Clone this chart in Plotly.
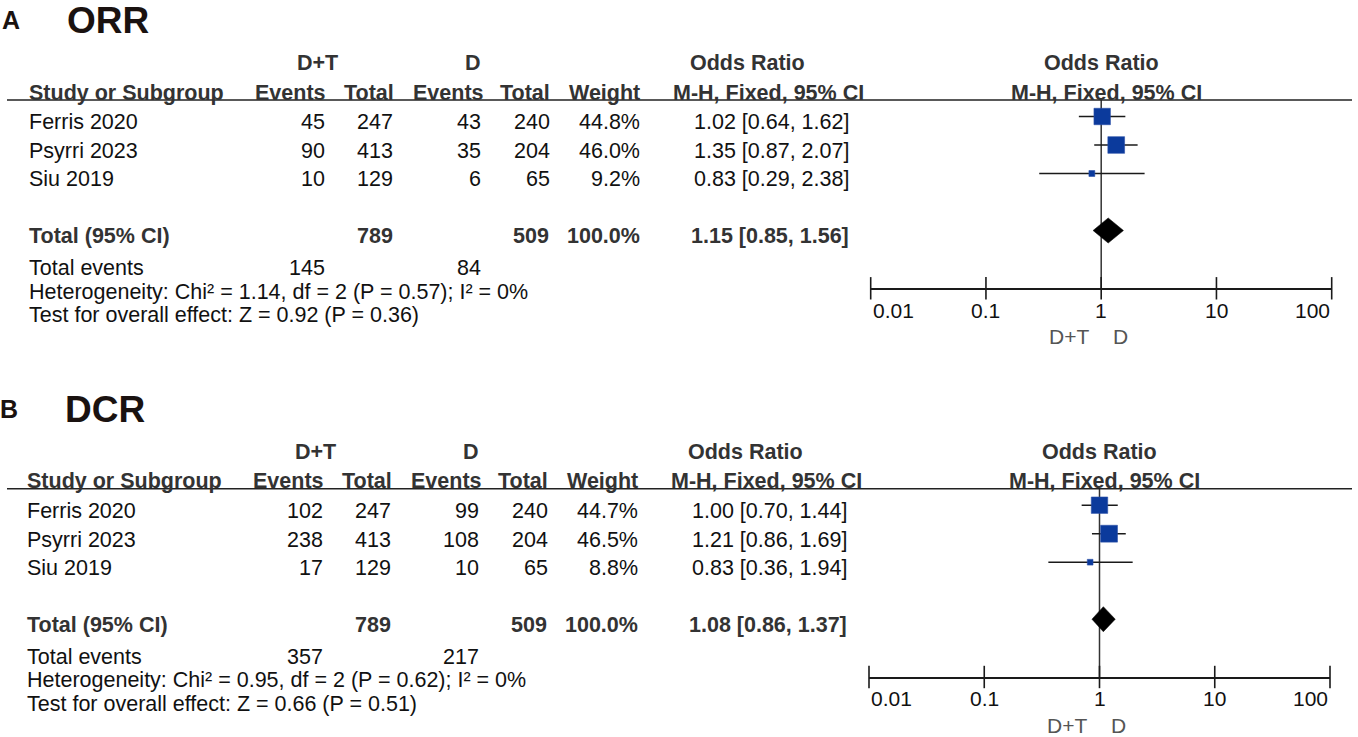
import math
import plotly.graph_objects as go

# ---------------- data ----------------
studies = ["Ferris 2020", "Psyrri 2023", "Siu 2019"]

orr_dt_events = [45, 90, 10]
orr_dt_total = [247, 413, 129]
orr_d_events = [43, 35, 6]
orr_d_total = [240, 204, 65]
orr_weight = [44.8, 46.0, 9.2]
orr_or = [1.02, 1.35, 0.83]
orr_lo = [0.64, 0.87, 0.29]
orr_hi = [1.62, 2.07, 2.38]
orr_pooled = [1.15, 0.85, 1.56]
orr_totals = [789, 509]
orr_total_events = [145, 84]
orr_het = "Heterogeneity: Chi² = 1.14, df = 2 (P = 0.57); I² = 0%"
orr_test = "Test for overall effect: Z = 0.92 (P = 0.36)"

dcr_dt_events = [102, 238, 17]
dcr_dt_total = [247, 413, 129]
dcr_d_events = [99, 108, 10]
dcr_d_total = [240, 204, 65]
dcr_weight = [44.7, 46.5, 8.8]
dcr_or = [1.00, 1.21, 0.83]
dcr_lo = [0.70, 0.86, 0.36]
dcr_hi = [1.44, 1.69, 1.94]
dcr_pooled = [1.08, 0.86, 1.37]
dcr_totals = [789, 509]
dcr_total_events = [357, 217]
dcr_het = "Heterogeneity: Chi² = 0.95, df = 2 (P = 0.62); I² = 0%"
dcr_test = "Test for overall effect: Z = 0.66 (P = 0.51)"

tick_vals = [0.01, 0.1, 1, 10, 100]
tick_labels = ["0.01", "0.1", "1", "10", "100"]

# ---------------- layout helpers ----------------
W, H = 1358, 737
FONT = "Liberation Sans, Arial, Helvetica, sans-serif"
HEAD = "#333333"
DATA = "#111111"
TS = 21.5  # table font size


def px(x):
    return x / W


def py(y):
    return 1 - y / H


fig = go.Figure()
annotations = []
shapes = []


def text(x, y, s, anchor="left", size=TS, bold=False, color=DATA):
    if bold:
        s = f"<b>{s}</b>"
    annotations.append(dict(x=px(x), y=py(y), xref="paper", yref="paper", text=s,
                            showarrow=False, xanchor=anchor, yanchor="middle",
                            font=dict(family=FONT, size=size, color=color)))


panels = [
    dict(letter="A", name="ORR", dte=orr_dt_events, dtt=orr_dt_total, de=orr_d_events,
         dt=orr_d_total, w=orr_weight, est=orr_or, lo=orr_lo, hi=orr_hi, pooled=orr_pooled,
         totals=orr_totals, tev=orr_total_events, het=orr_het, test=orr_test,
         dx=0.0, dy=0.0, xa="x", ya="y"),
    dict(letter="B", name="DCR", dte=dcr_dt_events, dtt=dcr_dt_total, de=dcr_d_events,
         dt=dcr_d_total, w=dcr_weight, est=dcr_or, lo=dcr_lo, hi=dcr_hi, pooled=dcr_pooled,
         totals=dcr_totals, tev=dcr_total_events, het=dcr_het, test=dcr_test,
         dx=-1.7, dy=388.7, xa="x2", ya="y2"),
]

ROW0_TEXT = 122.5
ROW0_MARK = 116.5
ROW_STEP = 28.5
HEADER_LINE = 100
AXIS_Y = 288.3
r_top = (HEADER_LINE - ROW0_MARK) / ROW_STEP
r_bot = (AXIS_Y - ROW0_MARK) / ROW_STEP
TOTAL_ROW = 4

for i, p in enumerate(panels):
    dx, dy = p["dx"], p["dy"]
    # titles
    text(0 + dx, 20 + dy, p["letter"], size=25, bold=True, color="#1a1210")
    text(65 + dx, 21 + dy, p["name"], size=37, bold=True, color="#1a1210")

    # header row 1
    text(317 + dx, 63.3 + dy, "D+T", anchor="center", bold=True, color=HEAD)
    text(473 + dx, 63.3 + dy, "D", anchor="center", bold=True, color=HEAD)
    text(747 + dx, 63.3 + dy, "Odds Ratio", anchor="center", bold=True, color=HEAD)
    text(1101 + dx, 63.3 + dy, "Odds Ratio", anchor="center", bold=True, color=HEAD)
    # header row 2
    hy = 92.7 + dy
    text(27 + dx, hy, "Study or Subgroup", bold=True, color=HEAD)
    text(328 + dx, hy, "Events", anchor="right", bold=True, color=HEAD)
    text(396 + dx, hy, "Total", anchor="right", bold=True, color=HEAD)
    text(486 + dx, hy, "Events", anchor="right", bold=True, color=HEAD)
    text(552 + dx, hy, "Total", anchor="right", bold=True, color=HEAD)
    text(642 + dx, hy, "Weight", anchor="right", bold=True, color=HEAD)
    text(768 + dx, hy, "M-H, Fixed, 95% CI", anchor="center", bold=True, color=HEAD)
    text(1106 + dx, hy, "M-H, Fixed, 95% CI", anchor="center", bold=True, color=HEAD)
    shapes.append(dict(type="line", xref="paper", yref="paper", x0=px(7), x1=px(1352),
                       y0=py(HEADER_LINE + dy), y1=py(HEADER_LINE + dy),
                       line=dict(color="#222222", width=1.5)))

    # study rows
    for r, s in enumerate(studies):
        ty = ROW0_TEXT + ROW_STEP * r + dy
        text(27 + dx, ty, s)
        text(327 + dx, ty, str(p["dte"][r]), anchor="right")
        text(395 + dx, ty, str(p["dtt"][r]), anchor="right")
        text(483 + dx, ty, str(p["de"][r]), anchor="right")
        text(552 + dx, ty, str(p["dt"][r]), anchor="right")
        text(642 + dx, ty, f"{p['w'][r]:.1f}%", anchor="right")
        text(851 + dx, ty, f"{p['est'][r]:.2f} [{p['lo'][r]:.2f}, {p['hi'][r]:.2f}]", anchor="right")

    # total row
    ty = ROW0_TEXT + ROW_STEP * TOTAL_ROW + dy
    text(27 + dx, ty, "Total (95% CI)", bold=True, color=HEAD)
    text(395 + dx, ty, str(p["totals"][0]), anchor="right", bold=True, color=HEAD)
    text(551 + dx, ty, str(p["totals"][1]), anchor="right", bold=True, color=HEAD)
    text(642 + dx, ty, f"{sum(p['w']):.1f}%", anchor="right", bold=True, color=HEAD)
    pe, pl, ph = p["pooled"]
    text(851 + dx, ty, f"{pe:.2f} [{pl:.2f}, {ph:.2f}]", anchor="right", bold=True, color=HEAD)

    # footer
    text(27 + dx, 268.3 + dy, "Total events")
    text(327 + dx, 268.3 + dy, str(p["tev"][0]), anchor="right")
    text(483 + dx, 268.3 + dy, str(p["tev"][1]), anchor="right")
    text(27 + dx, 291.7 + dy, p["het"])
    text(27 + dx, 315 + dy, p["test"])

    # ---------- forest plot ----------
    xa, ya = p["xa"], p["ya"]
    # reference line at OR = 1
    fig.add_trace(go.Scatter(x=[1, 1], y=[r_top, r_bot], mode="lines",
                             line=dict(color="#333333", width=1.5), xaxis=xa, yaxis=ya,
                             cliponaxis=False, hoverinfo="skip", showlegend=False))
    # CI whiskers
    cx, cy = [], []
    for r in range(len(studies)):
        cx += [p["lo"][r], p["hi"][r], None]
        cy += [r, r, None]
    fig.add_trace(go.Scatter(x=cx, y=cy, mode="lines", line=dict(color="#1a1a1a", width=1.6),
                             xaxis=xa, yaxis=ya, hoverinfo="skip", showlegend=False))
    # squares
    sizes = [16.5 * (wt / 45.0) ** 0.65 for wt in p["w"]]
    fig.add_trace(go.Scatter(x=p["est"], y=list(range(len(studies))), mode="markers",
                             opacity=1,
                             marker=dict(symbol="square", size=sizes, color="#0B3A9C",
                                         opacity=1, line=dict(color="#2a4fa8", width=0.6)),
                             xaxis=xa, yaxis=ya, showlegend=False))
    # pooled diamond
    fig.add_trace(go.Scatter(x=[pl, pe, ph, pe, pl],
                             y=[TOTAL_ROW, TOTAL_ROW - 0.44, TOTAL_ROW, TOTAL_ROW + 0.44, TOTAL_ROW],
                             mode="lines", fill="toself", fillcolor="#000000",
                             line=dict(color="#000000", width=0.5),
                             xaxis=xa, yaxis=ya, hoverinfo="skip", showlegend=False))
    # crossing tick marks on the axis
    fig.add_trace(go.Scatter(x=tick_vals, y=[r_bot] * len(tick_vals), mode="markers",
                             marker=dict(symbol="line-ns", size=16,
                                         line=dict(color="#1a1a1a", width=1.6)),
                             xaxis=xa, yaxis=ya, cliponaxis=False, hoverinfo="skip",
                             showlegend=False))
    # tick labels
    for k, (v, lab) in enumerate(zip(tick_vals, tick_labels)):
        anchor = "left" if k == 0 else ("right" if k == len(tick_vals) - 1 else "center")
        annotations.append(dict(x=math.log10(v), y=py(310 + dy), xref=xa, yref="paper",
                                text=lab, showarrow=False, xanchor=anchor, yanchor="middle",
                                font=dict(family=FONT, size=21, color=DATA)))
    # favours labels
    text(1090.7 + dx, 336.7 + dy, "D+T", anchor="right", size=21, color="#555555")
    text(1111 + dx, 336.7 + dy, "D", anchor="left", size=21, color="#555555")

    axis_common = dict(type="log", range=[-2, 2], showline=True, linecolor="#1a1a1a",
                       linewidth=1.6, ticks="", showticklabels=False, showgrid=False,
                       zeroline=False, fixedrange=True,
                       domain=[px(870.7 + dx), px(1331.7 + dx)])
    yaxis_common = dict(range=[r_bot, r_top], visible=False, showgrid=False, zeroline=False,
                        fixedrange=True, domain=[py(AXIS_Y + dy), py(HEADER_LINE + dy)])
    if i == 0:
        fig.update_layout(xaxis=dict(axis_common, anchor="y"), yaxis=dict(yaxis_common, anchor="x"))
    else:
        fig.update_layout(xaxis2=dict(axis_common, anchor="y2"), yaxis2=dict(yaxis_common, anchor="x2"))

fig.update_layout(width=W, height=H, margin=dict(l=0, r=0, t=0, b=0),
                  paper_bgcolor="white", plot_bgcolor="white",
                  showlegend=False, annotations=annotations, shapes=shapes,
                  font=dict(family=FONT))

fig.write_html("out.html",
               config={"displayModeBar": False},
               post_script="document.body.style.margin='0px';document.body.style.padding='0px';"
                           "document.body.style.overflow='hidden';")
